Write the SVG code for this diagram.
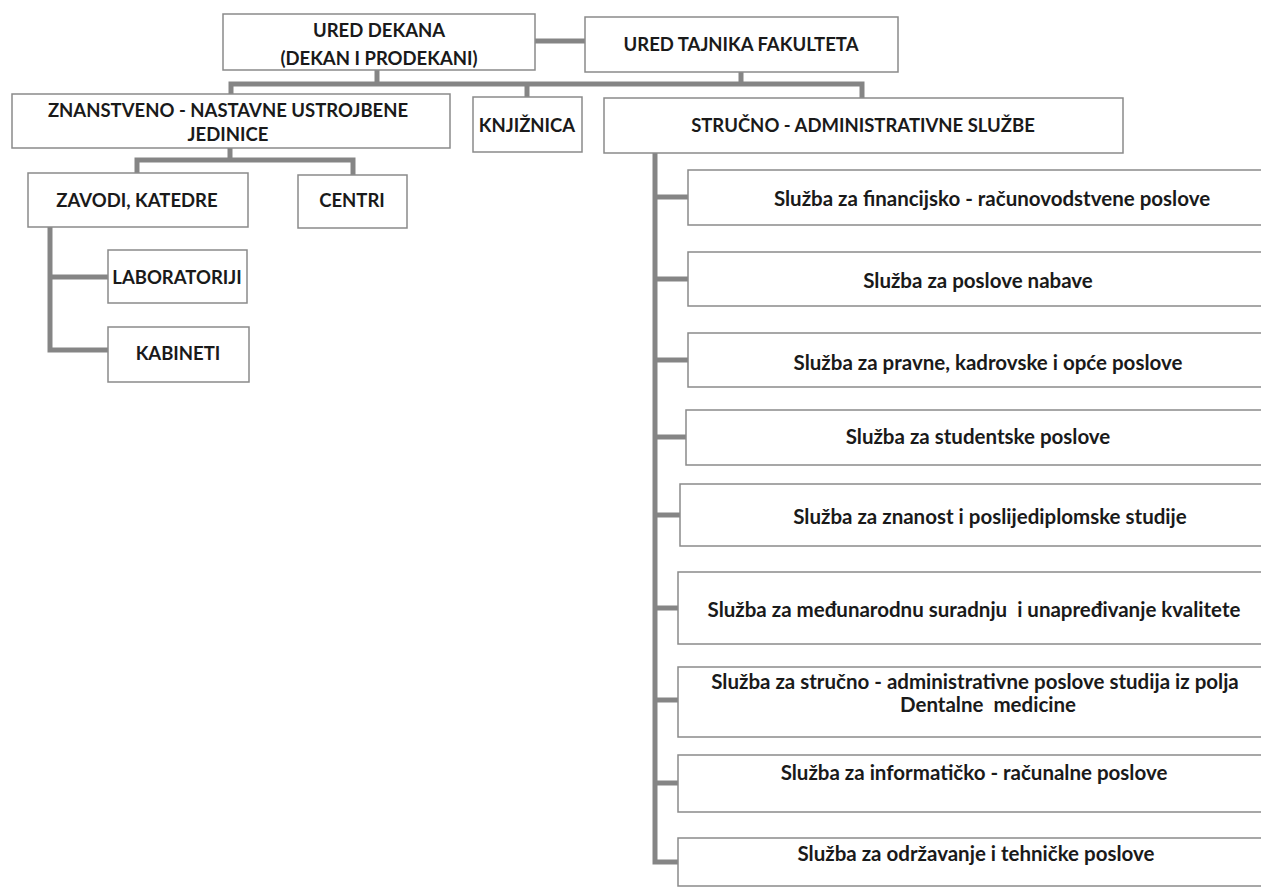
<svg xmlns="http://www.w3.org/2000/svg" width="1261" height="894" viewBox="0 0 1261 894">
<style>
.box{fill:#ffffff;stroke:#8a8a8a;stroke-width:1.5}
.shd{fill:#d6d6d6;stroke:none}
.cn{fill:none;stroke:#858585;stroke-width:5;stroke-linejoin:miter}
.h{font-family:Lato,"Liberation Sans",sans-serif;font-weight:700;font-size:18.5px;fill:#1a1a1a;text-anchor:middle}
.s{font-family:Lato,"Liberation Sans",sans-serif;font-weight:700;font-size:20.5px;fill:#1a1a1a;text-anchor:middle}
</style>
<rect width="1261" height="894" fill="#ffffff"/>
<g id="connectors">
<path class="cn" d="M535,41 H585"/>
<path class="cn" d="M377,70 V84 M741,72 V84 M231,96 V84 H862 V98 M527,84 V97"/>
<path class="cn" d="M230,148 V160 M137,173 V160 H353 V175"/>
<path class="cn" d="M50,227 V350 H108 M50,277 H108"/>
<path class="cn" d="M655,153 V862 H678 M655,197 H688 M655,279 H688 M655,360 H688 M655,437 H686 M655,515 H680 M655,608 H678 M655,700 H678 M655,783 H678"/>
</g>
<g id="ured-dekana"><rect class="box" x="223" y="14" width="312" height="56"/><text class="h" x="379" y="37">URED DEKANA</text><text class="h" x="379" y="65">(DEKAN I PRODEKANI)</text></g>
<g id="ured-tajnika"><rect class="box" x="585" y="17" width="313" height="55"/><text class="h" x="741" y="51">URED TAJNIKA FAKULTETA</text></g>
<g id="znanstveno"><rect class="box" x="12" y="94" width="438" height="54"/><text class="h" x="228" y="117">ZNANSTVENO - NASTAVNE USTROJBENE</text><text class="h" x="228" y="141">JEDINICE</text></g>
<g id="knjiznica"><rect class="box" x="473" y="97" width="109" height="55"/><text class="h" x="527" y="132">KNJIŽNICA</text></g>
<g id="strucno"><rect class="box" x="604" y="98" width="519" height="55"/><text class="h" x="863" y="132">STRUČNO - ADMINISTRATIVNE SLUŽBE</text></g>
<g id="zavodi"><rect class="box" x="28" y="173" width="220" height="54"/><text class="h" x="137" y="207">ZAVODI, KATEDRE</text></g>
<g id="centri"><rect class="box" x="298" y="175" width="109" height="53"/><text class="h" x="352" y="207">CENTRI</text></g>
<g id="laboratoriji"><rect class="box" x="108" y="250" width="139" height="53"/><text class="h" x="177" y="284">LABORATORIJI</text></g>
<g id="kabineti"><rect class="box" x="108" y="327" width="141" height="55"/><text class="h" x="178" y="360">KABINETI</text></g>
<g id="s1"><rect class="box" x="688" y="170" width="600" height="55"/><text class="s" x="992" y="206">Služba za financijsko - računovodstvene poslove</text></g>
<g id="s2"><rect class="box" x="688" y="252" width="600" height="54"/><text class="s" x="978" y="288">Služba za poslove nabave</text></g>
<g id="s3"><rect class="box" x="688" y="333" width="600" height="54"/><text class="s" x="988" y="370">Služba za pravne, kadrovske i opće poslove</text></g>
<g id="s4"><rect class="box" x="686" y="410" width="600" height="55"/><text class="s" x="978" y="444">Služba za studentske poslove</text></g>
<g id="s5"><rect class="box" x="680" y="484" width="610" height="62"/><text class="s" x="990" y="524">Služba za znanost i poslijediplomske studije</text></g>
<g id="s6"><rect class="box" x="678" y="572" width="610" height="72"/><text class="s" x="974" y="617" xml:space="preserve">Služba za međunarodnu suradnju  i unapređivanje kvalitete</text></g>
<g id="s7"><rect class="box" x="678" y="667" width="610" height="70"/><text class="s" x="975" y="689">Služba za stručno - administrativne poslove studija iz polja</text><text class="s" x="988" y="712" xml:space="preserve">Dentalne  medicine</text></g>
<g id="s8"><rect class="box" x="678" y="755" width="610" height="57"/><text class="s" x="974" y="780">Služba za informatičko - računalne poslove</text></g>
<g id="s9"><rect class="box" x="678" y="838" width="610" height="48"/><text class="s" x="976" y="861">Služba za održavanje i tehničke poslove</text></g>
</svg>
